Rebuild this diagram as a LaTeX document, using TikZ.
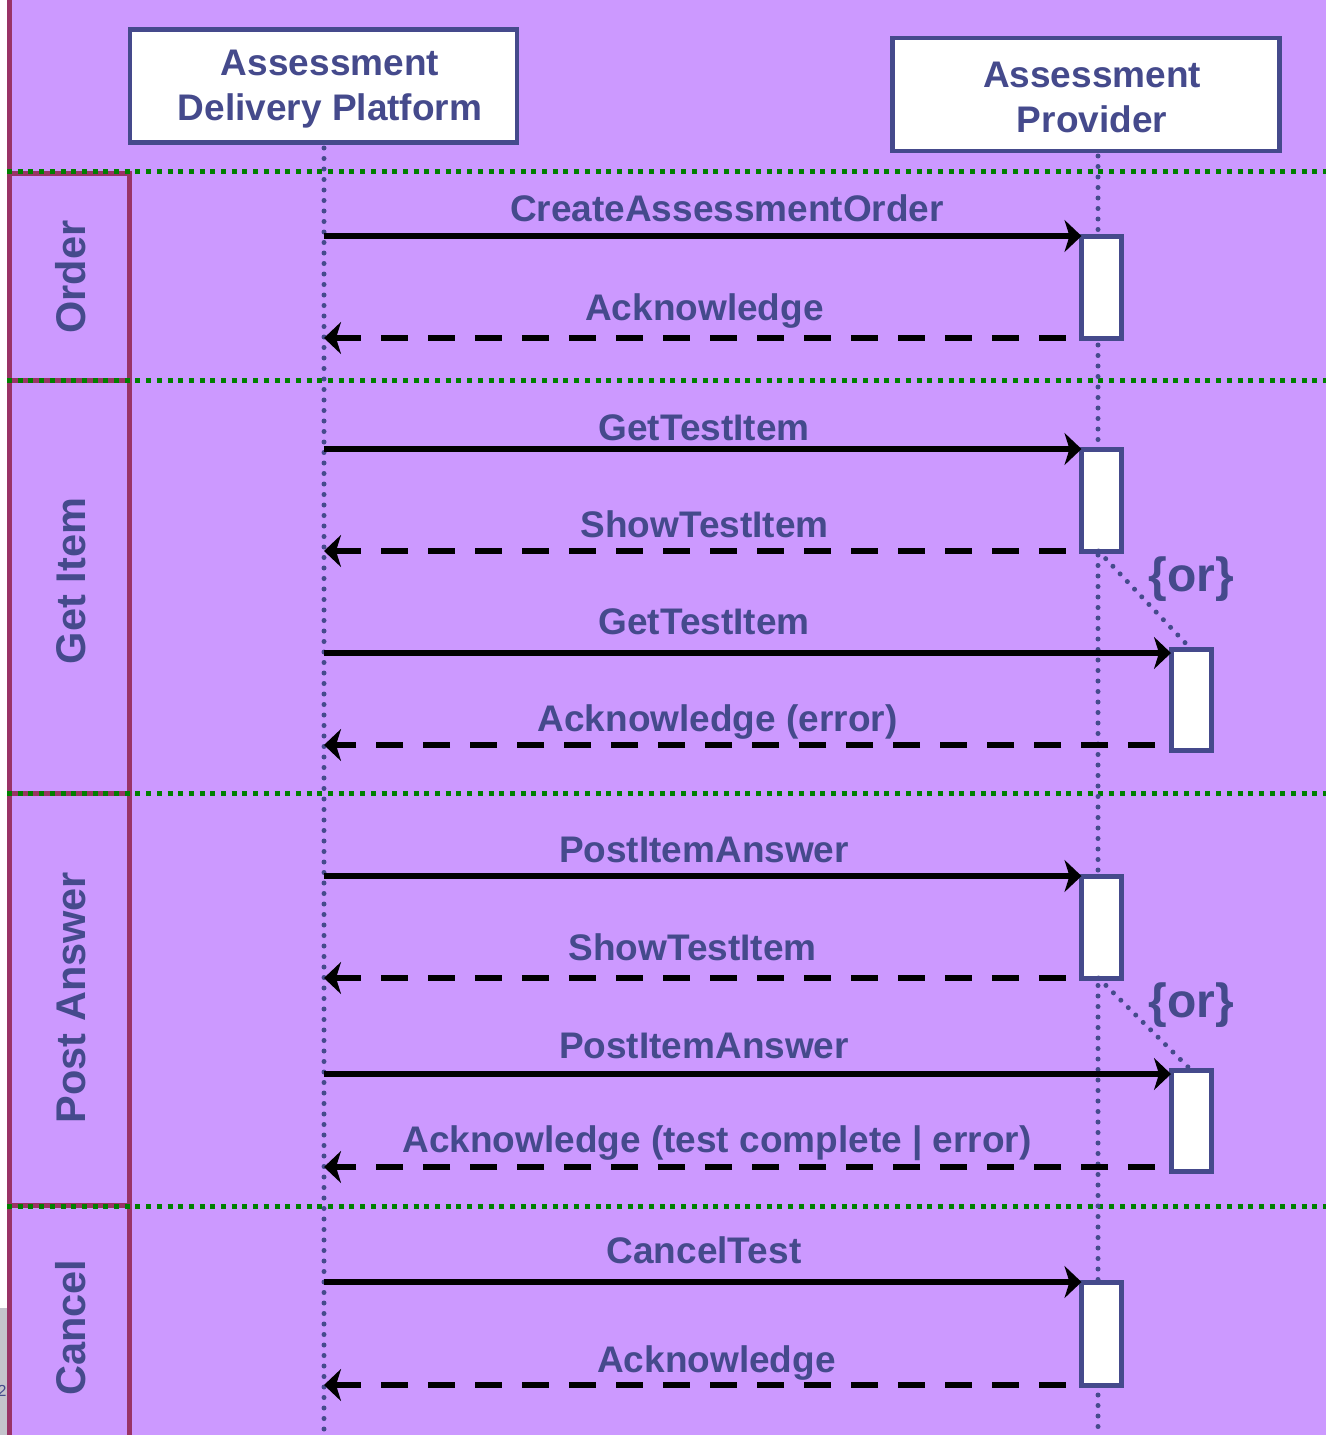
\documentclass[tikz,border=0pt]{standalone}
\usepackage{fontspec}
\setmainfont{Liberation Sans}
\usetikzlibrary{arrows.meta}
\definecolor{bg}{HTML}{CC99FF}
\definecolor{ink}{HTML}{454A8C}
\definecolor{lanecol}{HTML}{993366}
\definecolor{sepcol}{HTML}{008000}
\definecolor{artifact}{HTML}{C4C4CC}
\begin{document}
\begin{tikzpicture}[x=1pt,y=-1pt,
  actor/.style={draw=ink, line width=4.5pt, fill=white, minimum width=387pt, minimum height=113pt,
    inner sep=0pt, outer sep=0pt},
  actortext/.style={align=center, text=ink, inner sep=0pt, font=\bfseries\fontsize{37}{45}\selectfont},
  actbox/.style={draw=ink, line width=5pt, fill=white, minimum width=40pt, minimum height=102pt,
    inner sep=0pt, outer sep=0pt},
  lifeline/.style={draw=ink, line width=5pt, line cap=round, dash pattern=on 0pt off 10.5pt},
  sepline/.style={draw=sepcol, line width=5pt, dash pattern=on 5pt off 5.7pt},
  lanebox/.style={draw=lanecol, line width=5pt},
  lanelabel/.style={rotate=90, text=ink, inner sep=0pt, font=\bfseries\fontsize{41.5}{48}\selectfont},
  msg/.style={line width=6.5pt, -{Stealth[length=17pt,width=32pt,inset=5pt]}},
  reply/.style={msg, dash pattern=on 27pt off 20pt, dash phase=31pt},
  lbl/.style={text=ink, font=\bfseries\fontsize{37}{45}\selectfont, anchor=base, inner sep=0pt},
  orlbl/.style={text=ink, font=\bfseries\fontsize{48}{54}\selectfont, anchor=base, inner sep=0pt}
]
\useasboundingbox (0,0) rectangle (1326,1435);
% background
\fill[white] (0,0) rectangle (1326,1435);
\fill[bg] (7,0) rectangle (1326,1435);
\fill[artifact] (0,1308) rectangle (7,1435);
\begin{scope}
  \clip (0,1308) rectangle (7,1435);
  \node[text=ink, font=\fontsize{16}{18}\selectfont, inner sep=0pt] (artnum) at (2,1391) {2};
\end{scope}

% lanes
\draw[lanebox] (9.5,0) -- (9.5,173);
\draw[lanebox] (9.5,173) rectangle (129,380);
\draw[lanebox] (9.5,380) rectangle (129,793);
\draw[lanebox] (9.5,793) rectangle (129,1205);
\draw[lanebox] (9.5,1205) rectangle (129,1445);
\node[lanelabel] (lorder) at (71,277) {Order};
\node[lanelabel] (lget) at (71,581) {Get Item};
\node[lanelabel] (lpost) at (71,997.5) {Post Answer};
\node[lanelabel] (lcancel) at (71,1327.5) {Cancel};

% separators
\draw[sepline] (7,171) -- (1326,171);
\draw[sepline] (7,380) -- (1326,380);
\draw[sepline] (7,793) -- (1326,793);
\draw[sepline] (7,1206) -- (1326,1206);

% actors
\node[actor] (adp) at (323.5,86) {};
\node[actortext] (adptext) at (330,89) {Assessment\\Delivery Platform};
\node[actor] (ap) at (1086,94.5) {};
\node[actortext] (aptext) at (1092,97.5) {Assessment\\Provider};

% lifelines
\coordinate (adptop) at (324,148);
\coordinate (adpbot) at (324,1435);
\coordinate (aptop) at (1098,156);
\coordinate (apbot) at (1098,1435);
\draw[lifeline] (adptop) -- (adpbot);
\draw[lifeline] (aptop) -- (apbot);

% activation boxes
\node[actbox] (act1) at (1101.5,287) {};
\node[actbox] (act2) at (1101.5,500) {};
\node[actbox, minimum height=101pt] (act3) at (1191,699.5) {};
\node[actbox] (act4) at (1101.5,927) {};
\node[actbox, minimum height=101pt] (act5) at (1191,1120.5) {};
\node[actbox, minimum height=103pt] (act6) at (1101.5,1333.5) {};

% {or} connectors
\draw[lifeline] ([xshift=-3pt]act2.south) -- (act3.north);
\draw[lifeline] ([xshift=-3pt]act4.south) -- (act5.north);
\node[orlbl] (or1) at (1191,591) {\{or\}};
\node[orlbl] (or2) at (1191,1017) {\{or\}};

% lifeline anchor points
\coordinate (m1) at (324,236);
\coordinate (m2) at (324,338);
\coordinate (m3) at (324,449);
\coordinate (m4) at (324,551);
\coordinate (m5) at (324,653);
\coordinate (m6) at (324,745);
\coordinate (m7) at (324,876);
\coordinate (m8) at (324,978);
\coordinate (m9) at (324,1074);
\coordinate (m10) at (324,1167);
\coordinate (m11) at (324,1282);
\coordinate (m12) at (324,1385);

% messages
\draw[msg] (m1) -- (act1.north west);
\draw[reply] (act1.south west) -- (m2);
\draw[msg] (m3) -- (act2.north west);
\draw[reply] (act2.south west) -- (m4);
\draw[msg] (m5) -- (act3.west |- m5);
\draw[reply] (act3.west |- m6) -- (m6);
\draw[msg] (m7) -- (act4.north west);
\draw[reply] (act4.south west) -- (m8);
\draw[msg] (m9) -- (act5.west |- m9);
\draw[reply] (act5.west |- m10) -- (m10);
\draw[msg] (m11) -- (act6.north west);
\draw[reply] (act6.south west) -- (m12);

% labels
\node[lbl] (t1) at (727,221) {CreateAssessmentOrder};
\node[lbl] (t2) at (704.5,320) {Acknowledge};
\node[lbl] (t3) at (704,440) {GetTestItem};
\node[lbl] (t4) at (704.5,537) {ShowTestItem};
\node[lbl] (t5) at (704,634) {GetTestItem};
\node[lbl] (t6) at (717.5,731) {Acknowledge (error)};
\node[lbl] (t7) at (704,862) {PostItemAnswer};
\node[lbl] (t8) at (692.5,960) {ShowTestItem};
\node[lbl] (t9) at (704,1058) {PostItemAnswer};
\node[lbl] (t10) at (717,1152) {Acknowledge (test complete | error)};
\node[lbl] (t11) at (704,1263) {CancelTest};
\node[lbl] (t12) at (716.5,1372) {Acknowledge};
\end{tikzpicture}
\end{document}
